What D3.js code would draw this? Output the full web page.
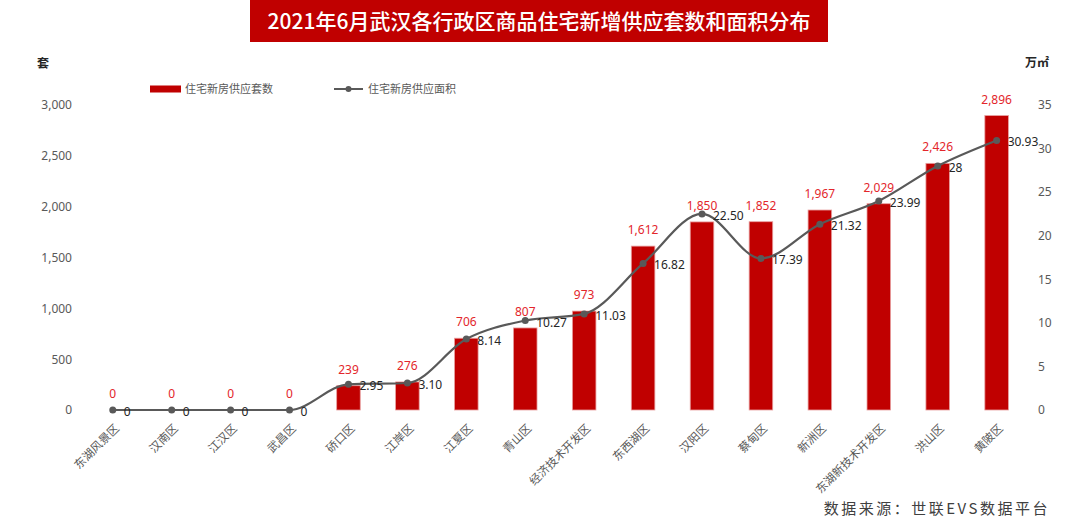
<!DOCTYPE html>
<html><head><meta charset="utf-8">
<script src="https://cdn.jsdelivr.net/npm/d3@7"></script>
<style>
body{margin:0;background:#fff;}
svg{display:block;font-family:"Noto Sans CJK SC","Noto Sans",sans-serif;}
</style></head>
<body><svg id="c" width="1080" height="529"></svg>
<script>
const categories = ["东湖风景区","汉南区","江汉区","武昌区","硚口区","江岸区","江夏区","青山区","经济技术开发区","东西湖区","汉阳区","蔡甸区","新洲区","东湖新技术开发区","洪山区","黄陂区"];
const units = [0,0,0,0,239,276,706,807,973,1612,1850,1852,1967,2029,2426,2896];
const areas = [0,0,0,0,2.95,3.10,8.14,10.27,11.03,16.82,22.50,17.39,21.32,23.99,28,30.93];
const areaLabels = ["0","0","0","0","2.95","3.10","8.14","10.27","11.03","16.82","22.50","17.39","21.32","23.99","28","30.93"];
const leftTicks = [0,500,1000,1500,2000,2500,3000];
const rightTicks = [0,5,10,15,20,25,30,35];
const title = "2021年6月武汉各行政区商品住宅新增供应套数和面积分布";
const legendNames = ["住宅新房供应套数","住宅新房供应面积"];
const source = "数据来源：世联EVS数据平台";

const svg = d3.select("#c");
const x = d3.scaleBand().domain(categories).range([83.3,1026.1]).paddingInner(0.6).paddingOuter(0.3);
const yL = d3.scaleLinear().domain([0,3000]).range([410,105]);
const yR = d3.scaleLinear().domain([0,35]).range([410,105]);
const cx = d => x(d) + x.bandwidth()/2;

// title
svg.append("rect").attr("x",250).attr("y",0).attr("width",578).attr("height",42).attr("fill","#C00000");
svg.append("text").attr("x",539).attr("y",29).attr("text-anchor","middle").attr("fill","#fff")
  .attr("font-size",21).attr("font-weight",500).text(title);

// axis titles
svg.append("text").attr("x",43).attr("y",68).attr("text-anchor","middle").attr("font-size",12).attr("font-weight","bold").attr("fill","#262626").text("套");
svg.append("text").attr("x",1037).attr("y",67).attr("text-anchor","middle").attr("font-size",12).attr("font-weight","bold").attr("fill","#262626").text("万㎡");

// left axis
const gl = svg.append("g").attr("transform","translate(78,0)")
  .call(d3.axisLeft(yL).tickValues(leftTicks).tickSize(0).tickPadding(6).tickFormat(d3.format(",")));
gl.select(".domain").remove();
gl.selectAll("text").attr("font-size",12).attr("fill","#595959").attr("font-family","'Noto Sans',sans-serif");

// right axis
const gr = svg.append("g").attr("transform","translate(1032,0)")
  .call(d3.axisRight(yR).tickValues(rightTicks).tickSize(0).tickPadding(6));
gr.select(".domain").remove();
gr.selectAll("text").attr("font-size",12).attr("fill","#595959").attr("font-family","'Noto Sans',sans-serif");

// x labels
svg.append("g").selectAll("text").data(categories).join("text")
  .attr("transform", d => `translate(${cx(d)+7},429) rotate(-45)`)
  .attr("text-anchor","end").attr("font-size",11.5).attr("fill","#595959").text(d=>d);

// bars
svg.append("g").selectAll("rect").data(categories).join("rect")
  .attr("x", d => x(d)).attr("width", x.bandwidth())
  .attr("y", (d,i) => yL(units[i])).attr("height", (d,i) => yL(0)-yL(units[i]))
  .attr("fill","#C00000").attr("stroke","#e8a0a0").attr("stroke-width",0.8);

// bar labels
svg.append("g").selectAll("text").data(categories).join("text")
  .attr("x", d => cx(d)).attr("y", (d,i) => yL(units[i]) - 12)
  .attr("text-anchor","middle").attr("font-size",12).attr("fill","#E3262B")
  .attr("font-family","'Noto Sans',sans-serif").text((d,i)=>d3.format(",")(units[i]));

// line
const line = d3.line().x((d,i)=>cx(categories[i])).y(d=>yR(d)).curve(d3.curveMonotoneX);
svg.append("path").datum(areas).attr("d",line).attr("fill","none").attr("stroke","#595959").attr("stroke-width",2.2);
svg.append("g").selectAll("circle").data(areas).join("circle")
  .attr("cx",(d,i)=>cx(categories[i])).attr("cy",d=>yR(d)).attr("r",3.5).attr("fill","#595959");
svg.append("g").selectAll("text").data(areas).join("text")
  .attr("x",(d,i)=>cx(categories[i])+11).attr("y",d=>yR(d)+6)
  .attr("font-size",12).attr("fill","#262626").attr("font-family","'Noto Sans',sans-serif")
  .text((d,i)=>areaLabels[i]);

// legend
const lg = svg.append("g");
lg.append("rect").attr("x",150).attr("y",85.5).attr("width",31).attr("height",7).attr("fill","#C00000");
lg.append("text").attr("x",185).attr("y",93).attr("font-size",11).attr("fill","#595959").text(legendNames[0]);
lg.append("line").attr("x1",334).attr("x2",363).attr("y1",89).attr("y2",89).attr("stroke","#595959").attr("stroke-width",2);
lg.append("circle").attr("cx",348.5).attr("cy",89).attr("r",3).attr("fill","#595959");
lg.append("text").attr("x",368).attr("y",93).attr("font-size",11).attr("fill","#595959").text(legendNames[1]);

// source
svg.append("text").attr("x",1050).attr("y",514).attr("text-anchor","end").attr("font-size",15)
  .attr("letter-spacing",2.5).attr("fill","#404040").text(source);
</script></body></html>
